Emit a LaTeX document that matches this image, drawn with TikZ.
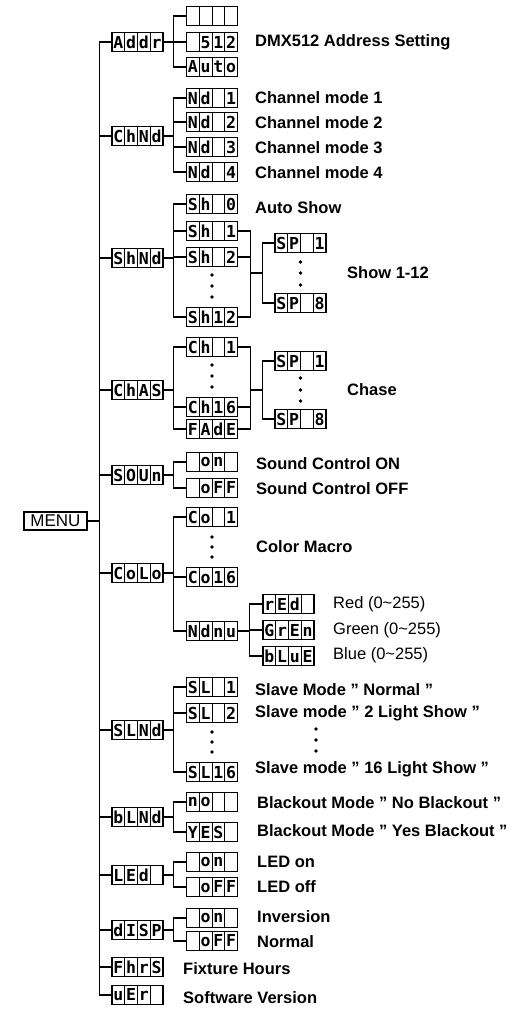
\documentclass[tikz,border=0pt]{standalone}
\usepackage{fontspec}
\setmainfont{Liberation Sans}
\newfontfamily\lcdfam{DejaVu Sans Mono}
\usetikzlibrary{calc}
\newcommand\lcdtxt[4]{\makebox[12.75pt]{#1}\makebox[12.75pt]{#2}\makebox[12.75pt]{#3}\makebox[12.75pt]{#4}}
\newcommand\qq{\symbol{34}}
\begin{document}
\begin{tikzpicture}[x=1pt,y=-1pt]
\tikzset{
  lcd/.style={draw, line width=1.5pt, minimum width=51pt, minimum height=19pt, inner sep=0pt,
    font=\lcdfam\bfseries\fontsize{16.5}{16.5}\selectfont,
    path picture={\foreach \i in {1,2,3}{\draw[line width=0.6pt]
      ($(path picture bounding box.south west)!\i/4!(path picture bounding box.south east)$) --
      ($(path picture bounding box.north west)!\i/4!(path picture bounding box.north east)$);}}},
  menubox/.style={draw, line width=1.2pt, minimum width=63pt, minimum height=18pt, inner sep=0pt,
    font=\fontsize{17}{17}\selectfont},
  lbl/.style={anchor=west, inner sep=0pt, font=\bfseries\fontsize{16.5}{18}\selectfont},
  lbllight/.style={anchor=west, inner sep=0pt, font=\fontsize{16.5}{18}\selectfont},
  wire/.style={line width=1.4pt},
  dotfill/.style={fill=black}
}
\useasboundingbox (0,0) rectangle (516,1014);
% root
\node[menubox] (menu) at (55.5,521) {MENU};
% level 1
\node[lcd] (addr) at (137.5,42)  {\lcdtxt{A}{d}{d}{r}};
\node[lcd] (chnd) at (137.5,136) {\lcdtxt{C}{h}{N}{d}};
\node[lcd] (shnd) at (137.5,258) {\lcdtxt{S}{h}{N}{d}};
\node[lcd] (chas) at (137.5,390) {\lcdtxt{C}{h}{A}{S}};
\node[lcd] (soun) at (137.5,475) {\lcdtxt{S}{O}{U}{n}};
\node[lcd] (colo) at (137.5,573) {\lcdtxt{C}{o}{L}{o}};
\node[lcd] (slnd) at (137.5,730) {\lcdtxt{S}{L}{N}{d}};
\node[lcd] (blnd) at (137.5,817) {\lcdtxt{b}{L}{N}{d}};
\node[lcd] (led)  at (137.5,875) {\lcdtxt{L}{E}{d}{}};
\node[lcd] (disp) at (137.5,930) {\lcdtxt{d}{I}{S}{P}};
\node[lcd] (fhrs) at (137.5,967) {\lcdtxt{F}{h}{r}{S}};
\node[lcd] (uer)  at (137.5,995) {\lcdtxt{u}{E}{r}{}};
% level 2
\node[lcd] (a1) at (212,16) {\lcdtxt{}{}{}{}};
\node[lcd] (a2) at (212,42) {\lcdtxt{}{5}{1}{2}};
\node[lcd] (a3) at (212,67) {\lcdtxt{A}{u}{t}{o}};
\node[lcd] (c1) at (212,98)  {\lcdtxt{N}{d}{}{1}};
\node[lcd] (c2) at (212,122) {\lcdtxt{N}{d}{}{2}};
\node[lcd] (c3) at (212,147) {\lcdtxt{N}{d}{}{3}};
\node[lcd] (c4) at (212,172) {\lcdtxt{N}{d}{}{4}};
\node[lcd] (s0) at (212,204) {\lcdtxt{S}{h}{}{0}};
\node[lcd] (s1) at (212,231) {\lcdtxt{S}{h}{}{1}};
\node[lcd] (s2) at (212,257) {\lcdtxt{S}{h}{}{2}};
\node[lcd] (s3) at (212,317) {\lcdtxt{S}{h}{1}{2}};
\node[lcd] (h1) at (212,347) {\lcdtxt{C}{h}{}{1}};
\node[lcd] (h2) at (212,407) {\lcdtxt{C}{h}{1}{6}};
\node[lcd] (h3) at (212,429) {\lcdtxt{F}{A}{d}{E}};
\node[lcd] (o1) at (212,462) {\lcdtxt{}{o}{n}{}};
\node[lcd] (o2) at (212,488) {\lcdtxt{}{o}{F}{F}};
\node[lcd] (k1) at (212,517) {\lcdtxt{C}{o}{}{1}};
\node[lcd] (k2) at (212,577) {\lcdtxt{C}{o}{1}{6}};
\node[lcd] (k3) at (212,631) {\lcdtxt{N}{d}{n}{u}};
\node[lcd] (l1) at (212,687) {\lcdtxt{S}{L}{}{1}};
\node[lcd] (l2) at (212,713) {\lcdtxt{S}{L}{}{2}};
\node[lcd] (l3) at (212,772) {\lcdtxt{S}{L}{1}{6}};
\node[lcd] (b1) at (212,802) {\lcdtxt{n}{o}{}{}};
\node[lcd] (b2) at (212,832) {\lcdtxt{Y}{E}{S}{}};
\node[lcd] (e1) at (212,862) {\lcdtxt{}{o}{n}{}};
\node[lcd] (e2) at (212,887) {\lcdtxt{}{o}{F}{F}};
\node[lcd] (d1) at (212,918) {\lcdtxt{}{o}{n}{}};
\node[lcd] (d2) at (212,941) {\lcdtxt{}{o}{F}{F}};
% level 3
\node[lcd] (sp1) at (300.5,243) {\lcdtxt{S}{P}{}{1}};
\node[lcd] (sp2) at (300.5,303) {\lcdtxt{S}{P}{}{8}};
\node[lcd] (cp1) at (300.5,361) {\lcdtxt{S}{P}{}{1}};
\node[lcd] (cp2) at (300.5,419) {\lcdtxt{S}{P}{}{8}};
\node[lcd] (rr) at (288.5,604) {\lcdtxt{r}{E}{d}{}};
\node[lcd] (gg) at (288.5,630) {\lcdtxt{G}{r}{E}{n}};
\node[lcd] (bb) at (288.5,656) {\lcdtxt{b}{L}{u}{E}};
% trunk
\coordinate (trunk) at ([xshift=-12pt]addr.west);
\draw[wire] (addr.west) -- (trunk) |- (uer.west);
\foreach \n in {chnd,shnd,chas,soun,colo,slnd,blnd,led,disp,fhrs}
  \draw[wire] (\n.west) -- (\n.west -| trunk);
\draw[wire] (menu.east) -- (menu.east -| trunk);
% groups of level 2
\coordinate (bus) at ([xshift=-12pt]a1.west);
\foreach \p/\f/\l/\m in {addr/a1/a3/a2, chnd/c1/c4/c2, shnd/s0/s3/s1, chas/h1/h3/h2,
  soun/o1/o2/o1, colo/k1/k3/k2, slnd/l1/l3/l2, blnd/b1/b2/b1, led/e1/e2/e1, disp/d1/d2/d1}{
  \draw[wire] (\p.east) -- (\p.east -| bus);
  \draw[wire] (\f.west) -- (\f.west -| bus) |- (\l.west);
  \draw[wire] (\m.west) -- (\m.west -| bus);
}
\draw[wire] (c3.west) -- (c3.west -| bus);
\draw[wire] (s2.west) -- (s2.west -| bus);
% show right side
\coordinate (rbus) at ([xshift=12pt]s1.east);
\coordinate (spbus) at ([xshift=-12pt]sp1.west);
\draw[wire] (s1.east) -- (rbus) |- (s3.east);
\draw[wire] (s2.east) -- (s2.east -| rbus);
\draw[wire] (sp1.west) -- (sp1.west -| spbus) |- (sp2.west);
\coordinate (spm) at ($(sp1.west)!0.5!(sp2.west)$);
\draw[wire] (spm -| rbus) -- (spm -| spbus);
% chase right side
\draw[wire] (h1.east) -- (h1.east -| rbus) |- (h3.east);
\draw[wire] (h2.east) -- (h2.east -| rbus);
\draw[wire] (cp1.west) -- (cp1.west -| spbus) |- (cp2.west);
\coordinate (cpm) at ($(cp1.west)!0.5!(cp2.west)$);
\draw[wire] (cpm -| rbus) -- (cpm -| spbus);
% manual colour
\coordinate (rgbus) at ([xshift=-13pt]rr.west);
\draw[wire] (rr.west) -- (rgbus) |- (bb.west);
\draw[wire] (gg.west) -- (gg.west -| rgbus);
\draw[wire] (k3.east) -- (k3.east -| rgbus);
% dots
\foreach \y in {275,286,297} \fill[dotfill] (212,\y) circle (1.8pt);
\foreach \y in {365,376,387} \fill[dotfill] (212,\y) circle (1.8pt);
\foreach \y in {537,547,557} \fill[dotfill] (212,\y) circle (1.8pt);
\foreach \y in {732,742,752} \fill[dotfill] (212,\y) circle (1.8pt);
\foreach \y in {262,273,285} \fill[dotfill] (300.5,\y) circle (1.8pt);
\foreach \y in {378,390,401} \fill[dotfill] (300.5,\y) circle (1.8pt);
\foreach \y in {729,740,751} \fill[dotfill] (316,\y) circle (1.8pt);
% labels
\node[lbl] (t1) at (255,42) {DMX512 Address Setting};
\node[lbl] (t2) at (255,98) {Channel mode 1};
\node[lbl] (t3) at (255,123) {Channel mode 2};
\node[lbl] (t4) at (255,148) {Channel mode 3};
\node[lbl] (t5) at (255,173) {Channel mode 4};
\node[lbl] (t6) at (255,208) {Auto Show};
\node[lbl] (t7) at (347,273) {Show 1-12};
\node[lbl] (t8) at (347,390) {Chase};
\node[lbl] (t9) at (256,464) {Sound Control ON};
\node[lbl] (t10) at (256,489) {Sound Control OFF};
\node[lbl] (t11) at (256,547) {Color Macro};
\node[lbllight] (t12) at (333,604) {Red (0\char`\~255)};
\node[lbllight] (t13) at (333,630) {Green (0\char`\~255)};
\node[lbllight] (t14) at (333,655) {Blue (0\char`\~255)};
\node[lbl] (t15) at (255,690) {Slave Mode \qq{} Normal \qq};
\node[lbl] (t16) at (255,713) {Slave mode \qq{} 2 Light Show \qq};
\node[lbl] (t17) at (255,769) {Slave mode \qq{} 16 Light Show \qq};
\node[lbl] (t18) at (257,803) {Blackout Mode \qq{} No Blackout \qq};
\node[lbl] (t19) at (257,831) {Blackout Mode \qq{} Yes Blackout \qq};
\node[lbl] (t20) at (257,862) {LED on};
\node[lbl] (t21) at (257,887) {LED off};
\node[lbl] (t22) at (257,917) {Inversion};
\node[lbl] (t23) at (257,942) {Normal};
\node[lbl] (t24) at (183,969) {Fixture Hours};
\node[lbl] (t25) at (183,998) {Software Version};
\end{tikzpicture}
\end{document}
